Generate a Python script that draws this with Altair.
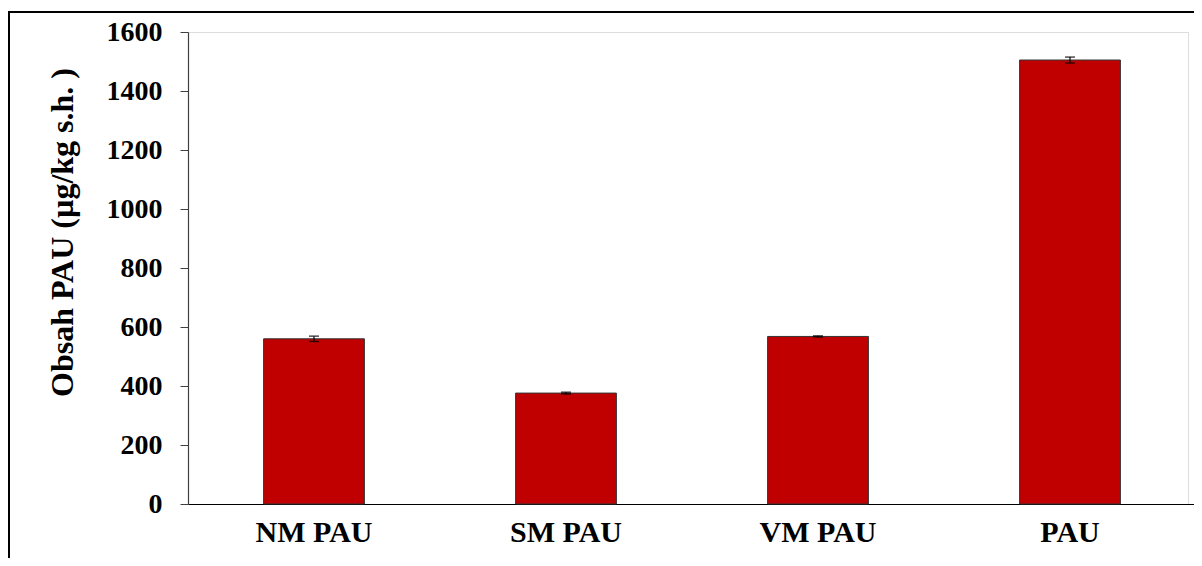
import altair as alt
import pandas as pd

categories = ["NM PAU", "SM PAU", "VM PAU", "PAU"]
values = [560, 376, 568, 1505]
errors = [9, 3, 2, 10]
y_ticks = [0, 200, 400, 600, 800, 1000, 1200, 1400, 1600]

df = pd.DataFrame({
    "cat": categories,
    "val": values,
    "lo": [v - e for v, e in zip(values, errors)],
    "hi": [v + e for v, e in zip(values, errors)],
})

FONT = "Liberation Serif"

x_enc = alt.X(
    "cat:N",
    sort=categories,
    title=None,
    scale=alt.Scale(paddingInner=0.6, paddingOuter=0.3, range=[0, 1008]),
    axis=alt.Axis(
        labelAngle=0,
        labelFont=FONT,
        labelFontWeight="bold",
        labelFontSize=30,
        labelColor="#000000",
        labelPadding=13,
        ticks=False,
        domainColor="#000000",
        domainWidth=1.2,
    ),
)

y_scale = alt.Scale(domain=[0, 1600], nice=False, zero=True)

bars = alt.Chart(df).mark_bar(color="#C00000", stroke="#333333", strokeWidth=1).encode(
    x=x_enc,
    y=alt.Y(
        "val:Q",
        scale=y_scale,
        title="Obsah PAU (µg/kg s.h. )",
        axis=alt.Axis(
            values=y_ticks,
            format="d",
            grid=False,
            labelFont=FONT,
            labelFontWeight="bold",
            labelFontSize=28,
            labelColor="#000000",
            labelPadding=18,
            tickSize=8,
            tickColor="#404040",
            domainColor="#404040",
            domainWidth=1.2,
            titleFont=FONT,
            titleFontWeight="bold",
            titleFontSize=32,
            titleColor="#000000",
            titleAngle=-90,
            titleAlign="center",
            titleBaseline="middle",
            titleX=-126,
            titleY=200,
        ),
    ),
)

err_rule = alt.Chart(df).mark_rule(color="#000000", strokeWidth=1.2).encode(
    x=alt.X("cat:N", sort=categories),
    y=alt.Y("lo:Q", scale=y_scale),
    y2="hi:Q",
)
cap_hi = alt.Chart(df).mark_tick(color="#000000", size=10, thickness=1.5).encode(
    x=alt.X("cat:N", sort=categories),
    y=alt.Y("hi:Q", scale=y_scale),
)
cap_lo = alt.Chart(df).mark_tick(color="#000000", size=10, thickness=1.5).encode(
    x=alt.X("cat:N", sort=categories),
    y=alt.Y("lo:Q", scale=y_scale),
)

one = alt.Data(values=[{"k": 1}])
border_top = alt.Chart(one).mark_rule(color="#000000", strokeWidth=2).encode(
    x=alt.value(-180), x2=alt.value(1020), y=alt.value(-20)
)
border_left = alt.Chart(one).mark_rule(color="#000000", strokeWidth=2).encode(
    x=alt.value(-179), y=alt.value(-21), y2=alt.value(600)
)

chart = (
    alt.layer(bars, err_rule, cap_hi, cap_lo, border_top, border_left)
    .properties(
        width=1000,
        height=472,
        autosize="none",
        padding={"left": 180, "top": 24, "right": 6, "bottom": 54},
    )
    .configure_view(stroke=None)
    .configure(background="#ffffff")
)

chart.save("out.html", embed_options={"renderer": "svg", "actions": False})
